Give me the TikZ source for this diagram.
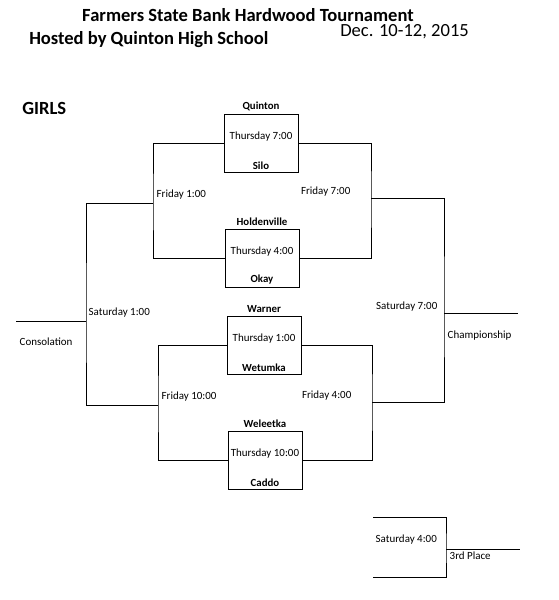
\documentclass[tikz,border=0pt]{standalone}
\usepackage{fontspec}
\setmainfont{Carlito}
\usetikzlibrary{positioning}

\begin{document}
\begin{tikzpicture}[x=0.025cm,y=-0.025cm]
  \tikzset{
    game/.style={
      draw,
      line width=0.6pt,
      minimum width=1.85cm,
      minimum height=1.45cm,
      inner sep=0pt
    },
    team/.style={
      font=\fontsize{7.7}{8}\selectfont\bfseries,
      inner sep=1pt
    },
    slot/.style={
      font=\fontsize{7.8}{8}\selectfont,
      inner sep=1pt
    },
    bracket/.style={
      line width=0.6pt
    },
    heading/.style={
      font=\fontsize{13.2}{15}\selectfont\bfseries,
      inner sep=0pt
    }
  }
  \useasboundingbox (0,0) rectangle (559,600);

  % Title lines
  \node[heading] (title) at (248,15) {Farmers State Bank Hardwood Tournament};
  \node[heading, anchor=west] (host) at (29,40) {Hosted by Quinton High School};
  \node[heading, font=\fontsize{13.2}{15}\selectfont, anchor=west] (dates) at (340,32) {Dec. 10-12, 2015};
  \node[heading, anchor=west] (girls) at (22,108) {GIRLS};

  % Thursday games
  \node[game] (g1) at (261,143) {};
  \node[team, above=1pt of g1] (g1top) {Quinton};
  \node[team, above=1pt of g1.south] (g1bot) {Silo};
  \node[slot] (g1time) at ([yshift=4.5pt]g1.center) {Thursday 7:00};

  \node[game] (g2) at (262,258) {};
  \node[team, above=1pt of g2] (g2top) {Holdenville};
  \node[team, above=1pt of g2.south] (g2bot) {Okay};
  \node[slot] (g2time) at ([yshift=4.5pt]g2.center) {Thursday 4:00};

  \node[game] (g3) at (264,345) {};
  \node[team, above=1pt of g3] (g3top) {Warner};
  \node[team, above=1pt of g3.south] (g3bot) {Wetumka};
  \node[slot] (g3time) at ([yshift=4.5pt]g3.center) {Thursday 1:00};

  \node[game] (g4) at (265,460) {};
  \node[team, above=1pt of g4] (g4top) {Weleetka};
  \node[team, above=1pt of g4.south] (g4bot) {Caddo};
  \node[slot] (g4time) at ([yshift=4.5pt]g4.center) {Thursday 10:00};

  % Bracket joints
  \coordinate (fri1) at (153,203);
  \coordinate (fri10) at (158,405);
  \coordinate (sat1) at (86,321);
  \coordinate (consol) at (16,321);
  \coordinate (fri7) at (371,198);
  \coordinate (fri4) at (372,402);
  \coordinate (sat7) at (444,313);
  \coordinate (champ) at (518,313);

  % Losers side
  \draw[bracket] (g1.west) -| (fri1) |- (g2.west);
  \draw[bracket] (g3.west) -| (fri10) |- (g4.west);
  \draw[bracket] (fri1) -| (sat1) |- (fri10);
  \draw[bracket] (sat1) -- (consol);

  % Winners side
  \draw[bracket] (g1.east) -| (fri7) |- (g2.east);
  \draw[bracket] (g3.east) -| (fri4) |- (g4.east);
  \draw[bracket] (fri7) -| (sat7) |- (fri4);
  \draw[bracket] (sat7) -- (champ);

  % Third place game
  \coordinate (tp1) at (373,517);
  \coordinate (tp2) at (373,577);
  \coordinate (tpc) at (446,549);
  \coordinate (tpend) at (520,549);
  \draw[bracket] (tp1) -| (tpc) |- (tp2);
  \draw[bracket] (tpc) -- (tpend);

  % Round labels
  \node[slot, anchor=west] (fri1lbl) at (155,195) {Friday 1:00};
  \node[slot, anchor=west] (fri10lbl) at (160,397) {Friday 10:00};
  \node[slot, anchor=west] (sat1lbl) at (87,313) {Saturday 1:00};
  \node[slot, anchor=west] (consollbl) at (18,342) {Consolation};
  \node[slot, anchor=east] (fri7lbl) at (352,192) {Friday 7:00};
  \node[slot, anchor=east] (fri4lbl) at (353,396) {Friday 4:00};
  \node[slot, anchor=east] (sat7lbl) at (439,307) {Saturday 7:00};
  \node[slot, anchor=west] (champlbl) at (446,336) {Championship};
  \node[slot, anchor=west] (sat4lbl) at (374,540) {Saturday 4:00};
  \node[slot, anchor=west] (thirdlbl) at (448,556) {3rd Place};
\end{tikzpicture}
\end{document}
